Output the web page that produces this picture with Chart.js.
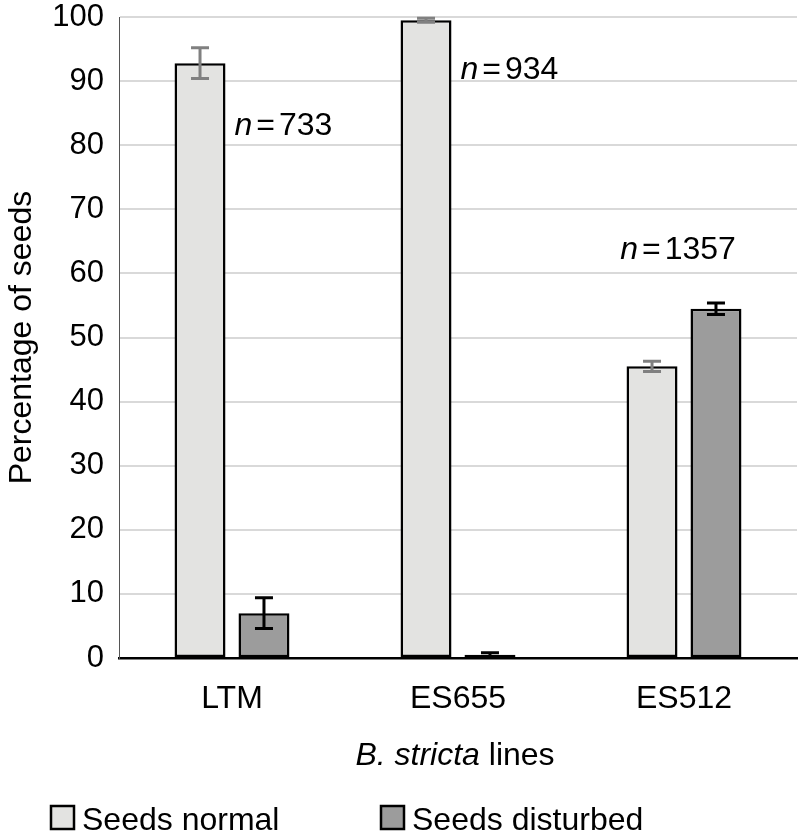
<!DOCTYPE html>
<html>
<head>
<meta charset="utf-8">
<script src="https://cdn.jsdelivr.net/npm/chart.js@4.4.1/dist/chart.umd.min.js"></script>
<style>
  html, body { margin: 0; padding: 0; background: #fff; }
  #wrap { width: 798px; height: 837px; }
</style>
</head>
<body>
<div id="wrap"><canvas id="seedChart" width="798" height="837"></canvas></div>
<script>
// data
const lines = ['LTM', 'ES655', 'ES512'];
const seedsNormal = [92.8, 99.5, 45.5];
const seedsNormalErr = [2.4, 0.3, 0.8];
const seedsDisturbed = [7.0, 0.5, 54.5];
const seedsDisturbedErr = [2.4, 0.3, 0.9];
const sampleSizes = [733, 934, 1357];
const sampleLabelY = [81.6, 90.3, 62.2];
const yTicks = [0, 10, 20, 30, 40, 50, 60, 70, 80, 90, 100];

const FONT = '"Liberation Sans", Arial, Helvetica, sans-serif';
const normalFill = '#e3e3e1';
const disturbedFill = '#9c9c9c';

// error bars: grey whiskers on the light bars, black on the dark ones
const errorBars = {
  id: 'errorBars',
  afterDatasetsDraw(chart) {
    const ctx = chart.ctx;
    const y = chart.scales.y;
    const errs = [seedsNormalErr, seedsDisturbedErr];
    const colors = ['#808080', '#000000'];
    chart.data.datasets.forEach((ds, di) => {
      const meta = chart.getDatasetMeta(di);
      meta.data.forEach((bar, i) => {
        const v = ds.data[i];
        const e = errs[di][i];
        const top = y.getPixelForValue(v + e);
        const bot = y.getPixelForValue(v - e);
        ctx.save();
        ctx.strokeStyle = colors[di];
        ctx.lineWidth = 3;
        ctx.beginPath();
        ctx.moveTo(bar.x, top); ctx.lineTo(bar.x, bot);
        ctx.moveTo(bar.x - 9, top); ctx.lineTo(bar.x + 9, top);
        ctx.moveTo(bar.x - 9, bot); ctx.lineTo(bar.x + 9, bot);
        ctx.stroke();
        ctx.restore();
      });
    });
  }
};

// n = ... labels, x-axis title with italic species name, legend
const extras = {
  id: 'extras',
  afterDraw(chart) {
    const ctx = chart.ctx;
    const x = chart.scales.x;
    const y = chart.scales.y;
    const area = chart.chartArea;
    const normMeta = chart.getDatasetMeta(0);

    ctx.save();
    ctx.fillStyle = '#000';
    ctx.textBaseline = 'alphabetic';

    sampleSizes.forEach((n, i) => {
      const italic = 'italic 32px ' + FONT;
      const plain = '32px ' + FONT;
      ctx.font = italic;
      const wn = ctx.measureText('n').width;
      ctx.font = plain;
      const weq = ctx.measureText('=').width;
      const wnum = ctx.measureText(String(n)).width;
      const total = wn + 4 + weq + 4 + wnum;
      let left;
      if (i < 2) {
        const bar = normMeta.data[i];
        left = bar.x + bar.width / 2 + 9;
      } else {
        left = x.getPixelForValue(i) - 6 - total / 2;
      }
      const by = y.getPixelForValue(sampleLabelY[i]);
      ctx.textAlign = 'left';
      ctx.font = italic;
      ctx.fillText('n', left, by);
      ctx.font = plain;
      ctx.fillText('=', left + wn + 4, by);
      ctx.fillText(String(n), left + wn + 4 + weq + 4, by);
    });

    // x axis title
    const partA = 'B. stricta';
    const partB = ' lines';
    ctx.font = 'italic 32px ' + FONT;
    const wa = ctx.measureText(partA).width;
    ctx.font = '32px ' + FONT;
    const wb = ctx.measureText(partB).width;
    const cx = (area.left + area.right) / 2 - 3;
    const tx = cx - (wa + wb) / 2;
    ctx.textAlign = 'left';
    ctx.font = 'italic 32px ' + FONT;
    ctx.fillText(partA, tx, 765);
    ctx.font = '32px ' + FONT;
    ctx.fillText(partB, tx + wa, 765);

    // legend
    const items = [
      { label: 'Seeds normal', fill: normalFill, x: 50 },
      { label: 'Seeds disturbed', fill: disturbedFill, x: 380 }
    ];
    items.forEach(it => {
      ctx.fillStyle = it.fill;
      ctx.strokeStyle = '#000';
      ctx.lineWidth = 2.5;
      ctx.fillRect(it.x + 1, 806, 23, 23);
      ctx.strokeRect(it.x + 1, 806, 23, 23);
      ctx.fillStyle = '#000';
      ctx.font = '32px ' + FONT;
      ctx.fillText(it.label, it.x + 32, 830);
    });
    ctx.restore();
  }
};

new Chart(document.getElementById('seedChart'), {
  type: 'bar',
  data: {
    labels: lines,
    datasets: [{
      label: 'Seeds normal',
      data: seedsNormal,
      backgroundColor: normalFill,
      borderColor: '#000',
      borderWidth: 2.5,
      borderSkipped: false,
      categoryPercentage: 0.566,
      barPercentage: 0.797
    }, {
      label: 'Seeds disturbed',
      data: seedsDisturbed,
      backgroundColor: disturbedFill,
      borderColor: '#000',
      borderWidth: 2.5,
      borderSkipped: false,
      categoryPercentage: 0.566,
      barPercentage: 0.797
    }]
  },
  options: {
    responsive: false,
    animation: false,
    layout: { padding: { top: 17, right: 1, left: 0, bottom: 0 } },
    plugins: {
      legend: { display: false },
      tooltip: { enabled: false }
    },
    scales: {
      x: {
        grid: { display: false, drawTicks: false },
        border: { display: true, color: '#000', width: 2.5 },
        ticks: {
          color: '#000',
          padding: 22,
          font: { family: FONT, size: 32 }
        },
        afterFit(scale) { scale.height = 179; }
      },
      y: {
        min: 0,
        max: 100,
        afterBuildTicks(scale) { scale.ticks = yTicks.map(v => ({ value: v })); },
        grid: { color: '#d9d9d9', lineWidth: 2, drawTicks: false },
        border: { display: true, color: '#555', width: 1 },
        ticks: {
          color: '#000',
          padding: 15,
          font: { family: FONT, size: 31 }
        },
        title: {
          display: true,
          text: 'Percentage of seeds',
          color: '#000',
          font: { family: FONT, size: 32 },
          padding: { top: 3, bottom: 0 }
        },
        afterFit(scale) {
          scale.width = 119;
          scale.paddingTop = 0;
          scale.paddingBottom = 0;
        }
      }
    }
  },
  plugins: [errorBars, extras]
});
</script>
</body>
</html>
